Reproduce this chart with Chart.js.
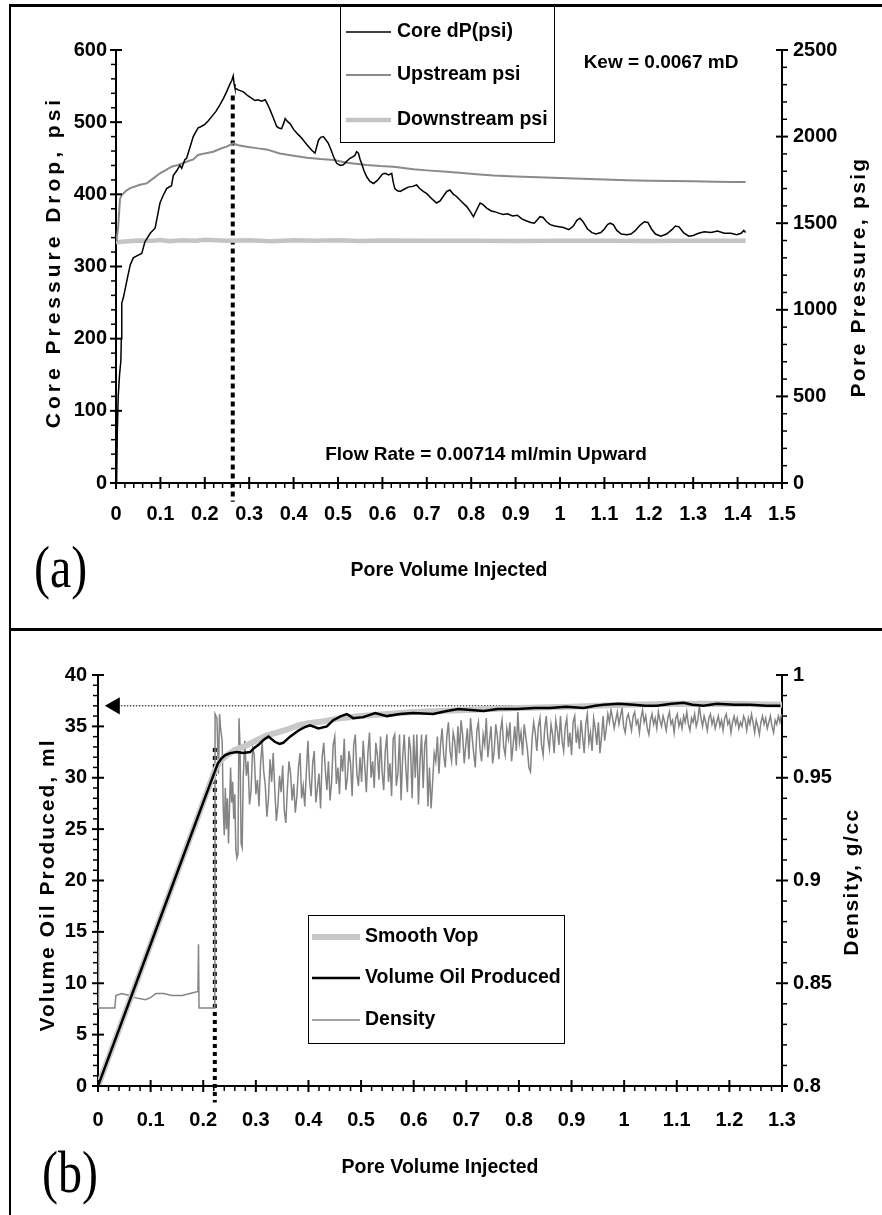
<!DOCTYPE html>
<html>
<head>
<meta charset="utf-8">
<script src="https://cdn.jsdelivr.net/npm/chart.js@4.4.0/dist/chart.umd.min.js"></script>
<style>
  html, body { margin: 0; padding: 0; background: #fff; }
  body { width: 882px; height: 1215px; position: relative; overflow: hidden; }
  .frame { position: absolute; left: 9px; width: 873px; box-sizing: border-box; border-top: 3px solid #000; border-left: 2px solid #000; }
  .wrap { position: absolute; left: 0; width: 882px; }
</style>
</head>
<body>
<div class="frame" style="top:4px;height:626px"></div>
<div class="frame" style="top:628px;height:587px"></div>
<div class="wrap" style="top:0;height:628px"><canvas id="chartA"></canvas></div>
<div class="wrap" style="top:628px;height:587px"><canvas id="chartB"></canvas></div>
<script>
// ---- panel (a): pressures vs pore volume injected ----
const coreDp = [[0,0],[0.0015,5],[0.003,73],[0.005,120],[0.008,150],[0.011,170],[0.012,200],[0.013,249],[0.017,258],[0.020,267],[0.026,285],[0.032,302],[0.039,312],[0.048,315],[0.058,318],[0.065,334],[0.071,340],[0.077,346],[0.088,353],[0.094,372],[0.099,388],[0.106,398],[0.114,408],[0.125,412],[0.129,426],[0.137,433],[0.144,440],[0.148,436],[0.155,448],[0.159,450],[0.163,458],[0.167,466],[0.174,480],[0.180,487],[0.185,492],[0.192,494],[0.200,497],[0.208,502],[0.216,508],[0.225,515],[0.234,524],[0.242,533],[0.249,542],[0.256,552],[0.261,558],[0.264,564],[0.266,553],[0.268,547],[0.278,544],[0.287,542],[0.296,537],[0.306,533],[0.313,530],[0.320,531],[0.328,529],[0.336,531],[0.342,524],[0.347,517],[0.355,505],[0.362,494],[0.367,492],[0.373,491],[0.378,499],[0.381,505],[0.386,501],[0.392,498],[0.400,490],[0.407,485],[0.415,480],[0.422,475],[0.431,468],[0.441,461],[0.448,457],[0.452,466],[0.456,475],[0.461,479],[0.467,480],[0.472,476],[0.478,471],[0.484,462],[0.490,452],[0.497,443],[0.505,440],[0.512,441],[0.520,446],[0.527,450],[0.533,452],[0.538,454],[0.542,459],[0.546,457],[0.550,448],[0.553,443],[0.559,432],[0.565,424],[0.572,418],[0.580,415],[0.588,419],[0.595,424],[0.600,428],[0.606,429],[0.614,427],[0.621,429],[0.624,418],[0.628,408],[0.634,405],[0.640,404],[0.649,407],[0.658,410],[0.668,411],[0.677,413],[0.684,408],[0.692,404],[0.700,401],[0.711,394],[0.722,388],[0.730,391],[0.738,398],[0.745,404],[0.752,406],[0.760,400],[0.767,397],[0.778,390],[0.790,383],[0.798,376],[0.805,369],[0.812,378],[0.820,388],[0.826,386],[0.835,381],[0.845,377],[0.853,376],[0.862,374],[0.872,372],[0.882,373],[0.893,370],[0.904,371],[0.914,366],[0.925,363],[0.934,361],[0.942,360],[0.948,364],[0.955,369],[0.962,368],[0.970,362],[0.978,358],[0.988,356],[0.998,355],[1.008,354],[1.020,351],[1.030,356],[1.038,364],[1.045,367],[1.052,362],[1.062,352],[1.072,347],[1.081,345],[1.092,347],[1.100,352],[1.107,358],[1.113,360],[1.120,358],[1.128,350],[1.138,345],[1.150,344],[1.160,345],[1.170,350],[1.180,357],[1.190,362],[1.198,361],[1.206,352],[1.215,345],[1.227,342],[1.240,345],[1.252,351],[1.260,356],[1.268,355],[1.278,347],[1.290,342],[1.300,343],[1.312,346],[1.325,348],[1.340,347],[1.355,349],[1.370,346],[1.385,346],[1.398,344],[1.408,346],[1.414,350],[1.418,347]];
const upstream = [[0,1400],[0.002,1420],[0.005,1480],[0.009,1640],[0.013,1662],[0.024,1690],[0.032,1703],[0.054,1722],[0.069,1730],[0.084,1759],[0.099,1788],[0.114,1810],[0.125,1826],[0.14,1836],[0.159,1855],[0.174,1868],[0.185,1894],[0.2,1903],[0.219,1913],[0.235,1930],[0.249,1942],[0.264,1961],[0.275,1950],[0.294,1942],[0.32,1932],[0.339,1926],[0.369,1903],[0.40,1890],[0.43,1878],[0.46,1870],[0.49,1865],[0.52,1849],[0.565,1836],[0.595,1830],[0.625,1826],[0.67,1811],[0.70,1805],[0.745,1797],[0.78,1790],[0.805,1784],[0.85,1775],[0.9,1770],[0.95,1765],[1.0,1761],[1.05,1757],[1.1,1752],[1.15,1748],[1.2,1745],[1.25,1744],[1.3,1742],[1.35,1740],[1.39,1738],[1.418,1738]];
const downstream = [[0,1390],[0.02,1395],[0.05,1400],[0.08,1398],[0.1,1403],[0.12,1396],[0.15,1402],[0.18,1399],[0.2,1404],[0.25,1398],[0.3,1401],[0.35,1396],[0.4,1402],[0.45,1398],[0.5,1401],[0.55,1397],[0.6,1400],[0.7,1398],[0.8,1399],[0.9,1397],[1.0,1398],[1.1,1398],[1.2,1397],[1.3,1398],[1.418,1398]];
const peakPV = 0.263, peakDp = 537;

// ---- panel (b): oil production and effluent density ----
const volOil = [[0,0],[0.05,6.9],[0.1,13.8],[0.15,20.7],[0.2,27.6],[0.222,30.6],[0.228,31.4],[0.235,31.9],[0.242,32.2],[0.251,32.4],[0.264,32.5],[0.276,32.4],[0.289,32.5],[0.297,32.9],[0.305,33.2],[0.315,33.7],[0.324,34.0],[0.336,33.5],[0.345,33.3],[0.352,33.4],[0.365,34.0],[0.381,34.6],[0.392,34.9],[0.403,35.1],[0.419,34.8],[0.435,35.0],[0.447,35.6],[0.462,36.0],[0.473,36.2],[0.485,35.8],[0.504,35.9],[0.527,36.3],[0.549,36.0],[0.574,36.2],[0.599,36.3],[0.637,36.2],[0.663,36.5],[0.685,36.7],[0.733,36.5],[0.760,36.7],[0.796,36.7],[0.83,36.8],[0.859,36.8],[0.89,36.9],[0.923,36.8],[0.945,37.0],[0.961,37.1],[0.99,37.2],[1.018,37.1],[1.04,37.0],[1.062,37.0],[1.09,37.2],[1.113,37.3],[1.13,37.1],[1.151,37.0],[1.176,37.2],[1.21,37.1],[1.24,37.1],[1.27,37.0],[1.297,37.0]];
const smoothVop = [[0,0],[0.1,13.8],[0.2,27.6],[0.222,30.7],[0.232,31.6],[0.245,32.2],[0.26,32.7],[0.28,33.1],[0.30,33.6],[0.32,34.1],[0.34,34.4],[0.36,34.7],[0.38,35.1],[0.40,35.3],[0.43,35.5],[0.46,35.8],[0.50,36.0],[0.55,36.2],[0.60,36.4],[0.65,36.5],[0.70,36.6],[0.80,36.8],[0.90,36.9],[1.00,37.1],[1.10,37.2],[1.20,37.2],[1.30,37.1]];
const density = [[0,0.876],[0.001,0.838],[0.032,0.838],[0.034,0.844],[0.045,0.845],[0.06,0.844],[0.07,0.843],[0.09,0.842],[0.10,0.843],[0.11,0.845],[0.125,0.845],[0.14,0.844],[0.16,0.844],[0.175,0.845],[0.19,0.846],[0.191,0.869],[0.192,0.838],[0.222,0.838],
  [0.2225,0.981],[0.226,0.979],[0.229,0.952],[0.231,0.981],[0.233,0.974],[0.236,0.968],[0.238,0.935],[0.240,0.922],[0.242,0.945],[0.244,0.925],[0.246,0.940],[0.248,0.918],[0.250,0.936],[0.252,0.955],[0.254,0.938],[0.256,0.948],[0.258,0.930],[0.260,0.942],[0.262,0.915],[0.264,0.911],[0.266,0.913],[0.268,0.979],[0.270,0.965],[0.272,0.918],[0.274,0.916],[0.276,0.950],[0.279,0.968],
  [0.282,0.951],[0.285,0.958],[0.288,0.937],[0.291,0.944],[0.294,0.965],[0.297,0.961],[0.300,0.942],[0.303,0.949],[0.306,0.936],[0.309,0.957],[0.312,0.967],[0.315,0.953],[0.318,0.946],[0.321,0.931],[0.324,0.940],[0.327,0.959],[0.330,0.948],[0.333,0.962],[0.336,0.944],[0.339,0.929],[0.342,0.937],[0.345,0.951],[0.348,0.943],[0.351,0.956],[0.354,0.934],[0.357,0.928],[0.360,0.945],[0.363,0.958],[0.366,0.952],[0.369,0.939],[0.372,0.947],[0.375,0.933],[0.378,0.941],[0.381,0.955],[0.384,0.962],[0.387,0.940],[0.390,0.946],[0.393,0.936],[0.396,0.953],[0.399,0.968],
  [0.402,0.949],[0.405,0.941],[0.408,0.957],[0.411,0.963],[0.414,0.938],[0.417,0.945],[0.420,0.952],[0.423,0.935],[0.426,0.960],[0.429,0.967],[0.432,0.954],[0.435,0.944],[0.438,0.958],[0.441,0.939],[0.444,0.948],[0.447,0.966],[0.450,0.970],[0.453,0.947],[0.456,0.955],[0.459,0.942],[0.462,0.961],[0.465,0.953],[0.468,0.969],[0.471,0.944],[0.474,0.950],[0.477,0.963],[0.480,0.957],[0.483,0.941],[0.486,0.966],[0.489,0.971],[0.492,0.952],[0.495,0.946],[0.498,0.960],
  [0.501,0.948],[0.504,0.968],[0.507,0.956],[0.510,0.943],[0.513,0.962],[0.516,0.972],[0.519,0.950],[0.522,0.958],[0.525,0.945],[0.528,0.967],[0.531,0.961],[0.534,0.949],[0.537,0.970],[0.540,0.953],[0.543,0.944],[0.546,0.963],[0.549,0.971],[0.552,0.948],[0.555,0.957],[0.558,0.941],[0.561,0.969],[0.564,0.971],[0.567,0.946],[0.570,0.952],[0.573,0.971],[0.576,0.939],[0.579,0.960],[0.582,0.971],[0.585,0.955],[0.588,0.943],[0.591,0.970],[0.594,0.964],[0.597,0.940],
  [0.600,0.971],[0.603,0.950],[0.606,0.971],[0.609,0.937],[0.612,0.958],[0.615,0.971],[0.618,0.945],[0.621,0.966],[0.624,0.971],[0.627,0.936],[0.630,0.955],[0.633,0.935],[0.636,0.948],[0.639,0.962],[0.642,0.958],[0.645,0.970],[0.648,0.952],[0.651,0.966],[0.654,0.974],[0.657,0.961],[0.660,0.955],[0.663,0.970],[0.666,0.977],[0.669,0.963],[0.672,0.958],[0.675,0.972],[0.678,0.968],[0.681,0.956],[0.684,0.975],[0.687,0.962],[0.690,0.978],[0.693,0.971],[0.696,0.957],[0.699,0.966],
  [0.702,0.974],[0.705,0.959],[0.708,0.979],[0.711,0.970],[0.714,0.962],[0.717,0.955],[0.720,0.973],[0.723,0.977],[0.726,0.964],[0.729,0.958],[0.732,0.971],[0.735,0.966],[0.738,0.979],[0.741,0.960],[0.744,0.968],[0.747,0.975],[0.750,0.957],[0.753,0.963],[0.756,0.976],[0.759,0.970],[0.762,0.959],[0.765,0.973],[0.768,0.978],[0.771,0.965],[0.774,0.961],[0.777,0.974],[0.780,0.969],[0.783,0.977],[0.786,0.958],[0.789,0.966],[0.792,0.975],[0.795,0.963],[0.798,0.982],
  [0.801,0.967],[0.804,0.972],[0.807,0.961],[0.810,0.976],[0.813,0.970],[0.816,0.964],[0.819,0.955],[0.822,0.953],[0.825,0.969],[0.828,0.977],[0.831,0.972],[0.834,0.963],[0.837,0.975],[0.840,0.979],[0.843,0.966],[0.846,0.961],[0.849,0.974],[0.852,0.980],[0.855,0.969],[0.858,0.964],[0.861,0.976],[0.864,0.971],[0.867,0.962],[0.870,0.978],[0.873,0.973],[0.876,0.966],[0.879,0.980],[0.882,0.968],[0.885,0.963],[0.888,0.975],[0.891,0.979],[0.894,0.965],[0.897,0.972],
  [0.900,0.961],[0.903,0.977],[0.906,0.980],[0.909,0.967],[0.912,0.973],[0.915,0.964],[0.918,0.978],[0.921,0.970],[0.924,0.962],[0.927,0.976],[0.930,0.981],[0.933,0.967],[0.936,0.972],[0.939,0.963],[0.942,0.979],[0.945,0.974],[0.948,0.966],[0.951,0.977],[0.954,0.962],[0.957,0.970],[0.960,0.980],[0.963,0.968],[0.966,0.974],[0.969,0.981],[0.972,0.977],[0.975,0.983],[0.978,0.979],[0.981,0.974],[0.984,0.978],[0.987,0.982],[0.990,0.976],[0.993,0.980],[0.996,0.984],[0.999,0.975],
  [1.002,0.972],[1.005,0.979],[1.008,0.981],[1.011,0.977],[1.014,0.973],[1.017,0.980],[1.020,0.982],[1.023,0.976],[1.026,0.978],[1.029,0.972],[1.032,0.979],[1.035,0.983],[1.038,0.977],[1.041,0.980],[1.044,0.974],[1.047,0.971],[1.050,0.978],[1.053,0.981],[1.056,0.976],[1.059,0.979],[1.062,0.974],[1.065,0.982],[1.068,0.978],[1.071,0.975],[1.074,0.980],[1.077,0.977],[1.080,0.973],[1.083,0.979],[1.086,0.982],[1.089,0.976],[1.092,0.978],[1.095,0.972],[1.098,0.979],
  [1.101,0.981],[1.104,0.975],[1.107,0.978],[1.110,0.974],[1.113,0.980],[1.116,0.977],[1.119,0.982],[1.122,0.976],[1.125,0.973],[1.128,0.979],[1.131,0.977],[1.134,0.981],[1.137,0.975],[1.140,0.978],[1.143,0.985],[1.146,0.979],[1.149,0.975],[1.152,0.980],[1.155,0.977],[1.158,0.973],[1.161,0.979],[1.164,0.981],[1.167,0.976],[1.170,0.979],[1.173,0.974],[1.176,0.977],[1.179,0.980],[1.182,0.975],[1.185,0.978],[1.188,0.973],[1.191,0.979],[1.194,0.981],[1.197,0.976],
  [1.200,0.978],[1.203,0.972],[1.206,0.977],[1.209,0.980],[1.212,0.976],[1.215,0.979],[1.218,0.974],[1.221,0.977],[1.224,0.975],[1.227,0.980],[1.230,0.978],[1.233,0.973],[1.236,0.979],[1.239,0.976],[1.242,0.981],[1.245,0.977],[1.248,0.972],[1.251,0.978],[1.254,0.975],[1.257,0.971],[1.260,0.977],[1.263,0.980],[1.266,0.976],[1.269,0.979],[1.272,0.974],[1.275,0.977],[1.278,0.980],[1.281,0.975],[1.284,0.972],[1.287,0.978],[1.290,0.976],[1.293,0.980],[1.296,0.977],[1.299,0.981]];
const breakPV = 0.222, breakVol = 32.9;
const finalVol = 37, arrowPV = 0.032;

const pts = arr => arr.map(([x, y]) => ({ x, y }));
const FONT = "'Liberation Sans', Arial, sans-serif";

Chart.defaults.font.family = FONT;
Chart.defaults.font.weight = 'bold';
Chart.defaults.font.size = 20;
Chart.defaults.color = '#000';

// tick marks (major crossing the axis, minor outside), legend box and free text
const decor = {
  id: 'decor',
  afterDraw(chart, args, opts) {
    const ctx = chart.ctx;
    ctx.save();
    ctx.strokeStyle = '#000';
    for (const id in opts.ticks) {
      const s = chart.scales[id], t = opts.ticks[id];
      const n = Math.round((s.max - s.min) / t.minor);
      const every = Math.round(t.major / t.minor);
      for (let i = 0; i <= n; i++) {
        const p = s.getPixelForValue(s.min + i * t.minor);
        const major = i % every === 0;
        const out = major ? 6 : 5, inn = major ? 6 : 0;
        ctx.lineWidth = major ? 2 : 1.5;
        ctx.beginPath();
        if (s.isHorizontal()) { ctx.moveTo(p, s.top - inn); ctx.lineTo(p, s.top + out); }
        else if (s.position === 'left') { ctx.moveTo(s.right - out, p); ctx.lineTo(s.right + inn, p); }
        else { ctx.moveTo(s.left - inn, p); ctx.lineTo(s.left + out, p); }
        ctx.stroke();
      }
    }

    const L = opts.legend;
    if (L) {
      ctx.fillStyle = '#fff';
      ctx.fillRect(L.x, L.y, L.w, L.h);
      ctx.lineWidth = 1;
      ctx.strokeRect(L.x + 0.5, L.y + 0.5, L.w, L.h);
      ctx.font = 'bold 19.5px ' + FONT;
      ctx.textBaseline = 'middle';
      ctx.textAlign = 'left';
      L.items.forEach((idx, k) => {
        const ds = chart.data.datasets[idx];
        ctx.strokeStyle = ds.borderColor;
        ctx.lineWidth = ds.borderWidth;
        ctx.beginPath();
        ctx.moveTo(L.s0, L.rows[k]);
        ctx.lineTo(L.s1, L.rows[k]);
        ctx.stroke();
        ctx.fillStyle = '#000';
        ctx.fillText(ds.label, L.tx, L.rows[k]);
      });
    }

    (opts.texts || []).forEach(t => {
      ctx.save();
      ctx.fillStyle = '#000';
      ctx.font = t.font;
      ctx.textAlign = t.align || 'center';
      ctx.textBaseline = 'middle';
      ctx.letterSpacing = (t.ls || 0) + 'px';
      ctx.translate(t.x, t.y);
      if (t.rot) ctx.rotate(t.rot);
      if (t.sx) ctx.scale(t.sx, 1);
      ctx.fillText(t.text, 0, 0);
      ctx.restore();
    });
    ctx.restore();
  }
};

function linAxis(pos, min, max, step, size, pad, extra) {
  const horiz = pos === 'bottom';
  return Object.assign({
    type: 'linear', position: pos, min: min, max: max,
    afterFit: s => { if (horiz) s.height = size; else s.width = size; },
    grid: { display: false, drawTicks: false },
    border: { display: true, color: '#000', width: 2 },
    ticks: { stepSize: step, padding: pad, autoSkip: false, maxRotation: 0, color: '#000',
             font: { size: 20, weight: 'bold' },
             callback: v => String(+v.toFixed(2)) }
  }, extra || {});
}

const lineDefaults = { pointRadius: 0, tension: 0, fill: false };

new Chart(document.getElementById('chartA'), {
  type: 'line',
  data: {
    datasets: [
      Object.assign({ label: 'Core dP(psi)', data: pts(coreDp), yAxisID: 'y', borderColor: '#000', borderWidth: 1.5 }, lineDefaults),
      Object.assign({ label: 'Upstream psi', data: pts(upstream), yAxisID: 'y2', borderColor: '#8a8a8a', borderWidth: 2 }, lineDefaults),
      Object.assign({ label: 'Downstream psi', data: pts(downstream), yAxisID: 'y2', borderColor: '#c4c4c4', borderWidth: 4.5 }, lineDefaults),
      Object.assign({ label: 'peak', data: [{ x: peakPV, y: peakDp }, { x: peakPV, y: -26 }], yAxisID: 'y',
        borderColor: '#000', borderWidth: 4, borderDash: [5, 4], clip: false }, lineDefaults)
    ]
  },
  options: {
    responsive: true, maintainAspectRatio: false, animation: false, events: [],
    layout: { padding: { top: 50, left: 0, right: 0, bottom: 0 } },
    scales: {
      x: linAxis('bottom', 0, 1.5, 0.1, 145, 19, {
        title: { display: true, text: 'Pore Volume Injected', color: '#000',
                 font: { size: 19.5, weight: 'bold' }, padding: { top: 0, bottom: 46 } } }),
      y: linAxis('left', 0, 600, 100, 116, 9),
      y2: linAxis('right', 0, 2500, 500, 100, 11)
    },
    plugins: {
      legend: { display: false },
      tooltip: { enabled: false },
      decor: {
        ticks: { x: { major: 0.1, minor: 0.02 }, y: { major: 100, minor: 20 }, y2: { major: 500, minor: 100 } },
        legend: { x: 340, y: 6, w: 214, h: 136, s0: 346, s1: 391, tx: 397, rows: [32, 75, 120], items: [0, 1, 2] },
        texts: [
          { text: 'Kew = 0.0067 mD', x: 661, y: 63, font: 'bold 19px ' + FONT },
          { text: 'Flow Rate = 0.00714 ml/min Upward', x: 486, y: 455, font: 'bold 19px ' + FONT },
          { text: 'Core Pressure Drop, psi', x: 54, y: 262, rot: -Math.PI / 2, ls: 4, font: 'bold 21px ' + FONT },
          { text: 'Pore Pressure, psig', x: 859, y: 277, rot: -Math.PI / 2, ls: 2.3, font: 'bold 21px ' + FONT },
          { text: '(a)', x: 34, y: 571, align: 'left', sx: 0.8, font: '60px "Liberation Serif", serif' }
        ]
      }
    }
  },
  plugins: [decor]
});

new Chart(document.getElementById('chartB'), {
  type: 'line',
  data: {
    datasets: [
      Object.assign({ label: 'Smooth Vop', data: pts(smoothVop), yAxisID: 'y', borderColor: '#c8c8c8', borderWidth: 6, order: 1 }, lineDefaults),
      Object.assign({ label: 'Volume Oil Produced', data: pts(volOil), yAxisID: 'y', borderColor: '#000', borderWidth: 2.5, order: 0 }, lineDefaults),
      Object.assign({ label: 'Density', data: pts(density), yAxisID: 'y2', borderColor: '#848484', borderWidth: 1.5, order: 2 }, lineDefaults),
      Object.assign({ label: 'breakthrough', data: [{ x: breakPV, y: breakVol }, { x: breakPV, y: -1.6 }], yAxisID: 'y',
        borderColor: '#000', borderWidth: 4, borderDash: [4, 4], clip: false, order: 3 }, lineDefaults),
      Object.assign({ label: 'final', data: [{ x: arrowPV, y: finalVol }, { x: 1.3, y: finalVol }], yAxisID: 'y',
        borderColor: '#000', borderWidth: 1, borderDash: [1.5, 1.5], order: 4 }, lineDefaults,
        { pointRadius: [10, 0], pointStyle: 'triangle', pointRotation: 270, pointBackgroundColor: '#000', pointBorderWidth: 0 })
    ]
  },
  options: {
    responsive: true, maintainAspectRatio: false, animation: false, events: [],
    layout: { padding: { top: 47, left: 0, right: 0, bottom: 0 } },
    scales: {
      x: linAxis('bottom', 0, 1.3, 0.1, 129, 22, {
        title: { display: true, text: 'Pore Volume Injected', color: '#000',
                 font: { size: 19.5, weight: 'bold' }, padding: { top: 0, bottom: 36 } } }),
      y: linAxis('left', 0, 40, 5, 98, 11),
      y2: linAxis('right', 0.8, 1, 0.05, 100, 11)
    },
    plugins: {
      legend: { display: false },
      tooltip: { enabled: false },
      decor: {
        ticks: { x: { major: 0.1, minor: 0.02 }, y: { major: 5, minor: 1 }, y2: { major: 0.05, minor: 0.01 } },
        legend: { x: 308, y: 287, w: 256, h: 128, s0: 312, s1: 360, tx: 365, rows: [309, 350, 392], items: [0, 1, 2] },
        texts: [
          { text: 'Volume Oil Produced, ml', x: 48, y: 257, rot: -Math.PI / 2, ls: 2, font: 'bold 21px ' + FONT },
          { text: 'Density, g/cc', x: 852, y: 254, rot: -Math.PI / 2, ls: 1.5, font: 'bold 21px ' + FONT },
          { text: '(b)', x: 42, y: 548, align: 'left', sx: 0.8, font: '60px "Liberation Serif", serif' }
        ]
      }
    }
  },
  plugins: [decor]
});
</script>
</body>
</html>
